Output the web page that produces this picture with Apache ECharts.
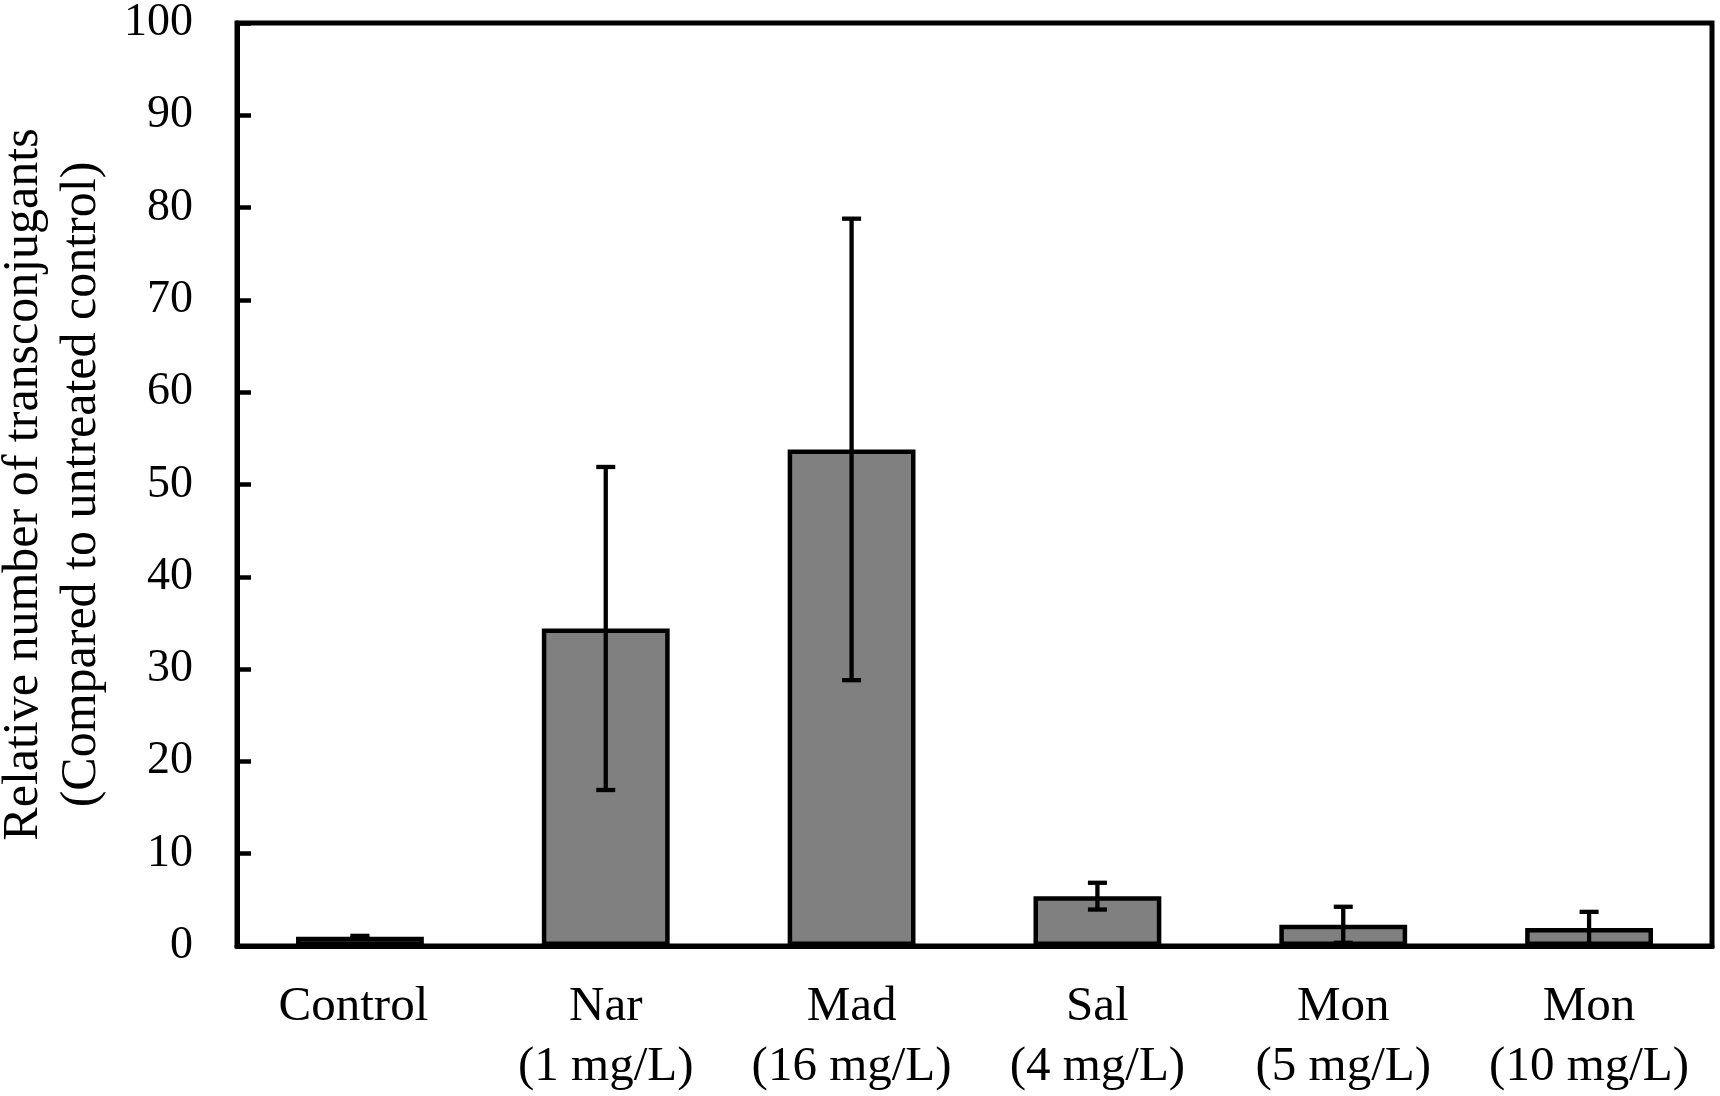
<!DOCTYPE html>
<html>
<head>
<meta charset="utf-8">
<script src="https://cdn.jsdelivr.net/npm/echarts@6/dist/echarts.min.js"></script>
<style>
html,body{margin:0;padding:0;background:#fff;}
#chart{width:1720px;height:1096px;}
</style>
</head>
<body>
<div id="chart"></div>
<script>
const categories = ['Control', 'Nar\n(1 mg/L)', 'Mad\n(16 mg/L)', 'Sal\n(4 mg/L)', 'Mon\n(5 mg/L)', 'Mon\n(10 mg/L)'];
const means = [1.0, 34.4, 53.8, 5.4, 2.3, 1.95];
const errors = [0.1, 17.5, 25.0, 1.45, 1.95, 1.75];
const yMin = 0, yMax = 100, yInterval = 10;
const yTitle = 'Relative number of transconjugants\n(Compared to untreated control)';

const FONT = '"Liberation Serif", "Times New Roman", serif';
const errData = means.map((m, i) => [i, m - errors[i], m + errors[i]]);
const labelStyle = {color: '#000', fontFamily: FONT, fontSize: 49, lineHeight: 60};

const chart = echarts.init(document.getElementById('chart'));
chart.setOption({
  backgroundColor: '#fff',
  animation: false,
  grid: {left: 237, right: 8, top: 23, bottom: 150, show: true, borderColor: '#000', borderWidth: 5,
         containLabel: false, outerBoundsMode: 'none'},
  xAxis: {
    type: 'category',
    data: categories,
    axisLine: {lineStyle: {color: '#000', width: 5}},
    axisTick: {show: false},
    axisLabel: {
      color: '#000', fontFamily: FONT, fontSize: 49, lineHeight: 60, margin: 31, interval: 0,
      formatter: function (v, idx) {
        return idx === 0 ? '{s|' + v + '}' : v.split('\n').map(t => '{n|' + t + '}').join('\n');
      },
      rich: {
        s: Object.assign({padding: [0, 13, 0, 0]}, labelStyle),
        n: labelStyle
      }
    }
  },
  yAxis: {
    type: 'value',
    min: yMin, max: yMax, interval: yInterval,
    name: yTitle,
    nameLocation: 'middle',
    nameRotate: 90,
    nameGap: 126,
    nameTextStyle: {color: '#000', fontFamily: FONT, fontSize: 50, lineHeight: 58},
    axisLine: {show: true, lineStyle: {color: '#000', width: 5}},
    axisTick: {show: true, inside: true, length: 14, lineStyle: {color: '#000', width: 4.5}},
    axisLabel: {color: '#000', fontFamily: FONT, fontSize: 46, margin: 44},
    splitLine: {show: false}
  },
  series: [
    {
      type: 'bar',
      data: means,
      barWidth: '52%',
      itemStyle: {color: '#808080', borderColor: '#000', borderWidth: 4.5}
    },
    {
      type: 'custom',
      data: errData,
      z: 10,
      renderItem: function (params, api) {
        const i = api.value(0);
        const lo = api.coord([i, api.value(1)]);
        const hi = api.coord([i, api.value(2)]);
        const hw = 9.5;
        const st = {stroke: '#000', lineWidth: 4.3};
        return {
          type: 'group',
          children: [
            {type: 'line', shape: {x1: hi[0], y1: hi[1], x2: lo[0], y2: lo[1]}, style: st},
            {type: 'line', shape: {x1: hi[0] - hw, y1: hi[1], x2: hi[0] + hw, y2: hi[1]}, style: st},
            {type: 'line', shape: {x1: lo[0] - hw, y1: lo[1], x2: lo[0] + hw, y2: lo[1]}, style: st}
          ]
        };
      }
    }
  ]
});
</script>
</body>
</html>
